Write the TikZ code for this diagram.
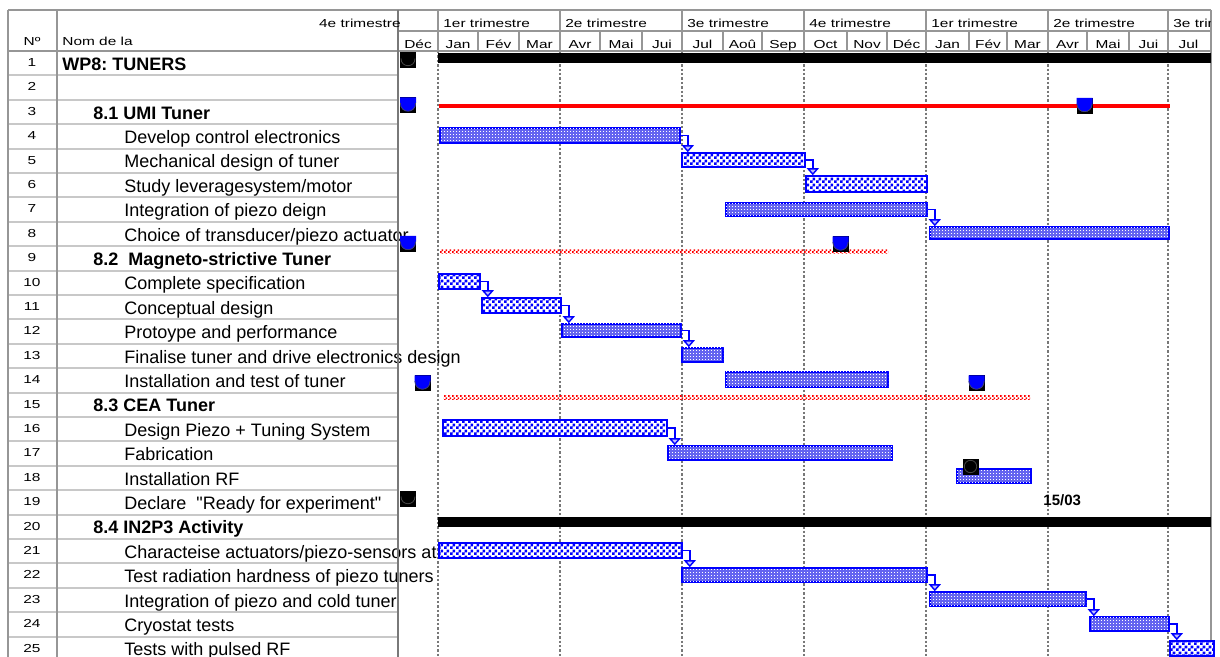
\documentclass[tikz,border=0pt]{standalone}
\usepackage{fontspec}
\setmainfont{Liberation Sans}
% same family without the TeX quote mapping, for straight quotes
\newfontfamily\plainsans{Liberation Sans}
\usepackage{graphicx}
\usetikzlibrary{arrows.meta,fit,calc,patterns}

% fine checkerboard used by the hatched task bars
\pgfdeclarepatternformonly{chk}{\pgfqpoint{0pt}{0pt}}{\pgfqpoint{3pt}{3pt}}{\pgfqpoint{3pt}{3pt}}{%
  \pgfpathrectangle{\pgfqpoint{0pt}{0pt}}{\pgfqpoint{1.5pt}{1.5pt}}%
  \pgfpathrectangle{\pgfqpoint{1.5pt}{1.5pt}}{\pgfqpoint{1.5pt}{1.5pt}}%
  \pgfusepath{fill}}
% smaller checkerboard for the dotted summary lines
\pgfdeclarepatternformonly{chksmall}{\pgfqpoint{0pt}{0pt}}{\pgfqpoint{2pt}{2pt}}{\pgfqpoint{2pt}{2pt}}{%
  \pgfpathrectangle{\pgfqpoint{0pt}{0pt}}{\pgfqpoint{1pt}{1pt}}%
  \pgfpathrectangle{\pgfqpoint{1pt}{1pt}}{\pgfqpoint{1pt}{1pt}}%
  \pgfusepath{fill}}
% tiny dot grid on the shaded task bars
\pgfdeclarepatternformonly{fdots}{\pgfqpoint{0pt}{0pt}}{\pgfqpoint{1.5pt}{1.5pt}}{\pgfqpoint{1.5pt}{1.5pt}}{%
  \pgfpathrectangle{\pgfqpoint{0pt}{0pt}}{\pgfqpoint{0.5pt}{0.5pt}}%
  \pgfusepath{fill}}

\definecolor{tabgray}{RGB}{150,150,150}
\definecolor{rowgray}{RGB}{200,200,200}
\definecolor{dotgray}{RGB}{120,120,120}
\definecolor{barblue}{RGB}{0,0,255}
\definecolor{barfill}{RGB}{100,100,240}

% small, slightly widened header / number text
\newcommand\sq[1]{\scalebox{1.33}[1]{\fontsize{5.8pt}{7pt}\selectfont #1}}

\tikzset{
  lbl/.style={anchor=base west, inner sep=0pt, font=\fontsize{9pt}{10pt}\selectfont},
  grp/.style={anchor=base west, inner sep=0pt, font=\fontsize{9pt}{10pt}\selectfont\bfseries},
  num/.style={anchor=base, inner sep=0pt},
  hdr/.style={inner sep=0pt},
  tabline/.style={draw=tabgray, line width=1pt},
  rowline/.style={draw=rowgray, line width=1pt},
  qline/.style={draw=dotgray, line width=1.2pt, dash pattern=on 1.2pt off 1pt},
  chkbar/.style={inner sep=0pt, draw=barblue, line width=0.8pt, fill=white,
    postaction={pattern=chk, pattern color=barblue}},
  dotbar/.style={inner sep=0pt, draw=barblue, line width=0.8pt, fill=barfill,
    postaction={pattern=fdots, pattern color=white}},
  sumbar/.style={inner sep=0pt, fill=black},
  redbar/.style={inner sep=0pt, fill=red},
  reddots/.style={inner sep=0pt, pattern=chksmall, pattern color=red},
  dep/.style={draw=barblue, line width=0.7pt,
    -{Triangle[width=6pt,length=3.5pt,fill=blue!25]}},
  msbase/.style={minimum size=8pt, inner sep=0pt, fill=black},
  msblue/.style={msbase, path picture={
    \begin{scope}[shift={(path picture bounding box.center)},x=1pt,y=1pt]
      \fill[blue] (-4,4) -- (-4,1.2) .. controls (-4,-4.4) and (4,-4.4) .. (4,1.2) -- (4,4) -- cycle;
      \draw[gray!60!black,line width=0.3pt] (-3.8,1.2) .. controls (-3.8,-4.2) and (3.8,-4.2) .. (3.8,1.2);
    \end{scope}}},
  msblack/.style={msbase, path picture={
    \begin{scope}[shift={(path picture bounding box.center)},x=1pt,y=1pt]
      \draw[gray!55!black,line width=0.4pt] (-3.5,1) .. controls (-3.5,-3.8) and (3.5,-3.8) .. (3.5,1);
    \end{scope}}},
  msround/.style={msbase, path picture={
    \begin{scope}[shift={(path picture bounding box.center)},x=1pt,y=1pt]
      \draw[gray!55!black,line width=0.4pt] (0,0) circle (3.1);
    \end{scope}}},
}

\begin{document}
\frenchspacing
\begin{tikzpicture}[x=0.5pt,y=-0.5pt]
\useasboundingbox (0,0) rectangle (1220,657);
\clip (0,0) rectangle (1220,657);

% dotted quarter dividers in the chart area
\foreach \qx in {438,560,682,804,926,1048,1168}
  \draw[qline] (\qx,51) -- (\qx,657);

% row separators of the task table
\foreach \k in {1,...,24}
  \draw[rowline] (8,{51+24.4*\k}) -- (398,{51+24.4*\k});

% row numbers
\foreach \k in {1,...,25}
  \node[num] (n\k) at (32,{42.1+24.4*\k}) {\sq{\k}};

% task names
\node[grp] (t1)  at (62,{45.9+24.4*1})  {WP8: TUNERS};
\node[grp] (t3)  at (93,{45.9+24.4*3})  {8.1 UMI Tuner};
\node[lbl] (t4)  at (124,{45.9+24.4*4}) {Develop control electronics};
\node[lbl] (t5)  at (124,{45.9+24.4*5}) {Mechanical design of tuner};
\node[lbl] (t6)  at (124,{45.9+24.4*6}) {Study leveragesystem/motor};
\node[lbl] (t7)  at (124,{45.9+24.4*7}) {Integration of piezo deign};
\node[lbl] (t8)  at (124,{45.9+24.4*8}) {Choice of transducer/piezo actuator};
\node[grp] (t9)  at (93,{45.9+24.4*9})  {8.2~ Magneto-strictive Tuner};
\node[lbl] (t10) at (124,{45.9+24.4*10}) {Complete specification};
\node[lbl] (t11) at (124,{45.9+24.4*11}) {Conceptual design};
\node[lbl] (t12) at (124,{45.9+24.4*12}) {Protoype and performance};
\node[lbl] (t13) at (124,{45.9+24.4*13}) {Finalise tuner and drive electronics design};
\node[lbl] (t14) at (124,{45.9+24.4*14}) {Installation and test of tuner};
\node[grp] (t15) at (93,{45.9+24.4*15})  {8.3 CEA Tuner};
\node[lbl] (t16) at (124,{45.9+24.4*16}) {Design Piezo + Tuning System};
\node[lbl] (t17) at (124,{45.9+24.4*17}) {Fabrication};
\node[lbl] (t18) at (124,{45.9+24.4*18}) {Installation RF};
\node[lbl] (t19) at (124,{45.9+24.4*19}) {\plainsans Declare~ "Ready for experiment"};
\node[grp] (t20) at (93,{45.9+24.4*20})  {8.4 IN2P3 Activity};
\node[lbl] (t21) at (124,{45.9+24.4*21}) {Characteise actuators/piezo-sensors at};
\node[lbl] (t22) at (124,{45.9+24.4*22}) {Test radiation hardness of piezo tuners};
\node[lbl] (t23) at (124,{45.9+24.4*23}) {Integration of piezo and cold tuner};
\node[lbl] (t24) at (124,{45.9+24.4*24}) {Cryostat tests};
\node[lbl] (t25) at (124,{45.9+24.4*25}) {Tests with pulsed RF};

% table frame
\draw[tabline] (8,10) -- (1211,10);
\draw[tabline] (398,31) -- (1211,31);
\draw[tabline] (8,51) -- (1211,51);
\draw[tabline] (8,10) -- (8,657);
\draw[tabline] (57,10) -- (57,657);
\draw[tabline, draw=gray!95!black, line width=1.4pt] (398,10) -- (398,657);
\draw[tabline] (1211,10) -- (1211,657);
\foreach \qx in {438,560,682,804,926,1048,1168}
  \draw[tabline] (\qx,10) -- (\qx,31);
\foreach \mx in {438,478,519,560,600,642,682,723,762,804,847,887,926,969,1007,1048,1087,1129,1168}
  \draw[tabline] (\mx,31) -- (\mx,51);

% column headings
\node[hdr, anchor=base] (hno) at (32,45.5) {\sq{Nº}};
\node[hdr, anchor=base west] (hname) at (62,45.5) {\sq{Nom de la}};

% quarter headings
\node[hdr, anchor=base east] (q0) at (401,27.5) {\sq{4e trimestre}};
\foreach \qx/\qn [count=\c] in {438/1er trimestre,560/2e trimestre,682/3e trimestre,
    804/4e trimestre,926/1er trimestre,1048/2e trimestre}
  \node[hdr, anchor=base west] (q\c) at ({\qx+5},27.5) {\sq{\qn}};
\begin{scope}
  \clip (1168,10) rectangle (1210,31);
  \node[hdr, anchor=base west] (q7) at (1173,27.5) {\sq{3e trimestre}};
\end{scope}

% month headings
\foreach \a/\b/\m in {398/438/Déc,438/478/Jan,478/519/Fév,519/560/Mar,560/600/Avr,
    600/642/Mai,642/682/Jui,682/723/Jul,723/762/Aoû,762/804/Sep,804/847/Oct,
    847/887/Nov,887/926/Déc,926/969/Jan,969/1007/Fév,1007/1048/Mar,1048/1087/Avr,
    1087/1129/Mai,1129/1168/Jui,1168/1209/Jul}
  \node[hdr, anchor=base] (mo\a) at ({(\a+\b)/2},48.5) {\sq{\m}};

% summary bars
\node[sumbar, fit={(438,53) (1211,63)}] (s1) {};
\node[sumbar, fit={(438,517) (1211,527)}] (s20) {};
\node[redbar, fit={(439,104) (1170,108)}] (s3) {};
\node[reddots, fit={(440,250) (888,254)}] (s9) {};
\node[reddots, fit={(443,396) (1030,400)}] (s15) {};

% task bars
\node[dotbar, fit={(440,128) (680,143)}]  (b4) {};
\node[chkbar, fit={(682,153) (805,167)}]  (b5) {};
\node[chkbar, fit={(806,176) (927,192)}]  (b6) {};
\node[dotbar, fit={(726,203) (927,216)}]  (b7) {};
\node[dotbar, fit={(930,227) (1169,239)}] (b8) {};
\node[chkbar, fit={(439,274) (480,289)}]  (b10) {};
\node[chkbar, fit={(482,298) (561,313)}]  (b11) {};
\node[dotbar, fit={(562,324) (681,337)}]  (b12) {};
\node[dotbar, fit={(682,348) (723,362)}]  (b13) {};
\node[dotbar, fit={(726,372) (888,387)}]  (b14) {};
\node[chkbar, fit={(443,420) (667,436)}]  (b16) {};
\node[dotbar, fit={(668,446) (892,460)}]  (b17) {};
\node[dotbar, fit={(957,469) (1031,483)}] (b18) {};
\node[chkbar, fit={(439,543) (682,558)}]  (b21) {};
\node[dotbar, fit={(682,568) (927,582)}]  (b22) {};
\node[dotbar, fit={(930,592) (1086,606)}] (b23) {};
\node[dotbar, fit={(1090,617) (1169,631)}] (b24) {};
\node[chkbar, fit={(1170,641) (1214,656)}] (b25) {};

% finish-to-start links
\foreach \p/\s in {b4/b5,b5/b6,b7/b8,b10/b11,b11/b12,b12/b13,b16/b17,b21/b22,b22/b23,b23/b24,b24/b25}
  \draw[dep] (\p.east) -| ([xshift=3.5pt]\p.east |- \s.north);

% milestones
\node[msblack] (m1)  at (408,60.5) {};
\node[msblue]  (m3a) at (408,105.5) {};
\node[msblue]  (m3b) at (1084.5,106) {};
\node[msblue]  (m8a) at (408,244) {};
\node[msblue]  (m8b) at (840.5,244.5) {};
\node[msblue]  (m14a) at (422.5,383.5) {};
\node[msblue]  (m14b) at (976.5,383.5) {};
\node[msround] (m18) at (970.5,466.5) {};
\node[msblack] (m19) at (408,498.5) {};

% date label
\node[anchor=base west, inner sep=0pt, font=\fontsize{7.5pt}{9pt}\selectfont\bfseries] (d19) at (1043,505) {15/03};
\end{tikzpicture}
\end{document}
